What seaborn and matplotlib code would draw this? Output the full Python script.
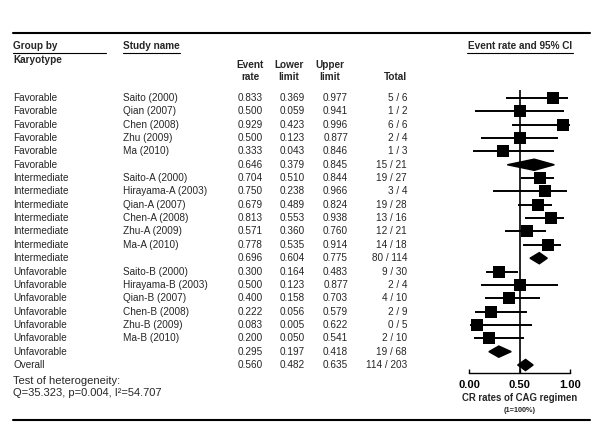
import numpy as np
import pandas as pd
import matplotlib
matplotlib.use('Agg')
import matplotlib.pyplot as plt
import seaborn as sns

#DATA
######################################################
groups = ['Favorable'] * 6 + ['Intermediate'] * 7 + ['Unfavorable'] * 7 + ['Overall']
studies = ['Saito (2000)', 'Qian (2007)', 'Chen (2008)', 'Zhu (2009)', 'Ma (2010)', '',
           'Saito-A (2000)', 'Hirayama-A (2003)', 'Qian-A (2007)', 'Chen-A (2008)', 'Zhu-A (2009)', 'Ma-A (2010)', '',
           'Saito-B (2000)', 'Hirayama-B (2003)', 'Qian-B (2007)', 'Chen-B (2008)', 'Zhu-B (2009)', 'Ma-B (2010)', '',
           '']
event_rate = [0.833, 0.500, 0.929, 0.500, 0.333, 0.646,
              0.704, 0.750, 0.679, 0.813, 0.571, 0.778, 0.696,
              0.300, 0.500, 0.400, 0.222, 0.083, 0.200, 0.295,
              0.560]
lower_limit = [0.369, 0.059, 0.423, 0.123, 0.043, 0.379,
               0.510, 0.238, 0.489, 0.553, 0.360, 0.535, 0.604,
               0.164, 0.123, 0.158, 0.056, 0.005, 0.050, 0.197,
               0.482]
upper_limit = [0.977, 0.941, 0.996, 0.877, 0.846, 0.845,
               0.844, 0.966, 0.824, 0.938, 0.760, 0.914, 0.775,
               0.483, 0.877, 0.703, 0.579, 0.622, 0.541, 0.418,
               0.635]
totals = ['5 / 6', '1 / 2', '6 / 6', '2 / 4', '1 / 3', '15 / 21',
          '19 / 27', '3 / 4', '19 / 28', '13 / 16', '12 / 21', '14 / 18', '80 / 114',
          '9 / 30', '2 / 4', '4 / 10', '2 / 9', '0 / 5', '2 / 10', '19 / 68',
          '114 / 203']
x_ticks = [0.0, 0.5, 1.0]
x_tick_labels = ['0.00', '0.50', '1.00']

df = pd.DataFrame({'group': groups, 'study': studies, 'rate': event_rate,
                   'lower': lower_limit, 'upper': upper_limit, 'total': totals})
df['row'] = np.arange(len(df))
df['summary'] = df['study'] == ''

#LAYOUT (pixel positions on a 600x445 canvas)
######################################################
sns.set_style('white')
plt.rcParams['font.family'] = ['Liberation Sans', 'DejaVu Sans']
fs = 7.2

row0 = 98
row_step = 13.35
def row_y(i):
    return row0 + row_step * i

fig = plt.figure(figsize=(6, 4.45), dpi=100)
bg = fig.add_axes([0, 0, 1, 1])
bg.set_xlim(0, 600)
bg.set_ylim(445, 0)
bg.axis('off')

#Rules top and bottom
bg.plot([13, 590], [33, 33], color='black', lw=1.5)
bg.plot([13, 590], [420, 420], color='black', lw=1.5)

#Headers
bg.text(13, 46, 'Group by', fontsize=fs, fontweight='bold', va='center')
bg.text(13, 60, 'Karyotype', fontsize=fs, fontweight='bold', va='center')
bg.plot([13, 106], [52.5, 52.5], color='black', lw=0.8)
bg.text(123, 46, 'Study name', fontsize=fs, fontweight='bold', va='center')
bg.plot([123, 180], [52.5, 52.5], color='black', lw=0.8)
bg.text(250, 65, 'Event', fontsize=fs, fontweight='bold', va='center', ha='center')
bg.text(250, 77, 'rate', fontsize=fs, fontweight='bold', va='center', ha='center')
bg.text(289, 65, 'Lower', fontsize=fs, fontweight='bold', va='center', ha='center')
bg.text(289, 77, 'limit', fontsize=fs, fontweight='bold', va='center', ha='center')
bg.text(330, 65, 'Upper', fontsize=fs, fontweight='bold', va='center', ha='center')
bg.text(330, 77, 'limit', fontsize=fs, fontweight='bold', va='center', ha='center')
bg.text(407, 77, 'Total', fontsize=fs, fontweight='bold', va='center', ha='right')
bg.text(520, 46, 'Event rate and 95% CI', fontsize=fs, fontweight='bold', va='center', ha='center')
bg.plot([467, 573], [52.5, 52.5], color='black', lw=0.8)

#Table rows
for i, r in df.iterrows():
    y = row_y(r['row'])
    bg.text(13, y, r['group'], fontsize=fs, va='center')
    bg.text(123, y, r['study'], fontsize=fs, va='center')
    bg.text(263, y, '%.3f' % r['rate'], fontsize=fs, va='center', ha='right')
    bg.text(305, y, '%.3f' % r['lower'], fontsize=fs, va='center', ha='right')
    bg.text(348, y, '%.3f' % r['upper'], fontsize=fs, va='center', ha='right')
    bg.text(407, y, r['total'], fontsize=fs, va='center', ha='right')

#Heterogeneity
bg.text(13, 381, 'Test of heterogeneity:', fontsize=8, va='center')
bg.text(13, 393, 'Q=35.323, p=0.004, I\u00b2=54.707', fontsize=8, va='center')

#FOREST PLOT
######################################################
left, right, top, bottom = 469, 570, 90, 373
ax = fig.add_axes([left / 600, (445 - bottom) / 445, (right - left) / 600, (bottom - top) / 445])
ax.set_xlim(0, 1)
ax.set_ylim((bottom - row0) / row_step, (top - row0) / row_step)
ax.patch.set_alpha(0)

ax.axvline(0.5, color='black', lw=1.2, zorder=1)

studies_df = df[~df['summary']]
ax.hlines(studies_df['row'], studies_df['lower'], studies_df['upper'], color='black', lw=1.4, zorder=2)
sns.scatterplot(data=studies_df, x='rate', y='row', marker='s', s=78, color='black',
                edgecolor='black', linewidth=0, ax=ax, zorder=3, clip_on=False, legend=False)

h = 0.42
for i, r in df[df['summary']].iterrows():
    ax.fill([r['lower'], r['rate'], r['upper'], r['rate']],
            [r['row'], r['row'] - h, r['row'], r['row'] + h],
            color='black', zorder=3, clip_on=False)

for s in ['top', 'right', 'left']:
    ax.spines[s].set_visible(False)
ax.spines['bottom'].set_color('black')
ax.spines['bottom'].set_linewidth(1.0)
ax.set_yticks([])
ax.set_xticks(x_ticks)
ax.set_xticklabels(x_tick_labels, fontsize=8, fontweight='bold')
ax.tick_params(axis='x', direction='in', length=3, width=1, pad=5, colors='black', bottom=True)
ax.set_xlabel('')
ax.set_ylabel('')

bg.text(520, 398, 'CR rates of CAG regimen', fontsize=6.9, fontweight='bold', va='center', ha='center')
bg.text(520, 411, '(1=100%)', fontsize=5.3, fontweight='bold', va='center', ha='center')

fig.savefig('out.png', dpi=100)
